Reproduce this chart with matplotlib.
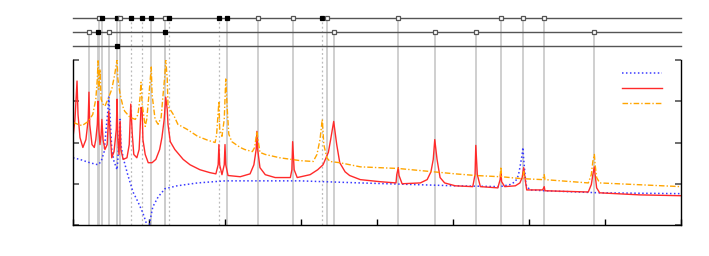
import matplotlib
matplotlib.use("Agg")
import matplotlib.pyplot as plt

# --- curves (x in axis units 0..8, y in axis units 0..4) ---
red_x = [0, 0.026, 0.053, 0.066, 0.092, 0.13, 0.17, 0.20, 0.21, 0.22, 0.25, 0.28, 0.30, 0.32,
         0.33, 0.34, 0.355, 0.37, 0.38, 0.395, 0.42, 0.45, 0.46, 0.47, 0.49, 0.51, 0.54, 0.57,
         0.58, 0.59, 0.605, 0.62, 0.63, 0.66, 0.71, 0.74, 0.75, 0.76, 0.78, 0.80, 0.84, 0.87,
         0.88, 0.895, 0.91, 0.92, 0.95, 0.99, 1.04, 1.09, 1.14, 1.17, 1.20, 1.22, 1.24, 1.25,
         1.28, 1.34, 1.45, 1.54, 1.67, 1.80, 1.88, 1.91, 1.92, 1.93, 1.96, 1.99, 2.00, 2.01,
         2.04, 2.20, 2.33, 2.38, 2.41, 2.42, 2.43, 2.46, 2.53, 2.66, 2.86, 2.88, 2.89, 2.91,
         2.95, 3.12, 3.22, 3.29, 3.36, 3.39, 3.43, 3.47, 3.51, 3.58, 3.64, 3.78, 4.04, 4.25,
         4.26, 4.28, 4.29, 4.33, 4.57, 4.66, 4.71, 4.74, 4.76, 4.79, 4.83, 4.89, 5.03, 5.26,
         5.29, 5.30, 5.32, 5.36, 5.59, 5.62, 5.63, 5.64, 5.68, 5.82, 5.88, 5.91, 5.93, 5.95,
         5.97, 6.18, 6.20, 6.21, 6.78, 6.82, 6.84, 6.86, 6.87, 6.89, 6.93, 7.46, 8.0]
red_y = [2.12, 2.56, 3.49, 2.68, 2.12, 1.88, 2.07, 2.56, 3.22, 2.44, 1.95, 1.88, 2.07, 2.44,
         3.00, 2.32, 1.95, 2.20, 2.56, 2.07, 1.83, 1.95, 2.32, 2.76, 2.20, 1.63, 1.78, 2.32,
         3.05, 2.07, 1.71, 2.51, 1.83, 1.59, 1.63, 1.95, 2.44, 2.93, 2.20, 1.71, 1.63, 1.83,
         2.20, 2.85, 2.80, 2.07, 1.71, 1.51, 1.51, 1.59, 1.83, 2.12, 2.56, 3.10, 2.80, 2.44,
         2.02, 1.83, 1.59, 1.46, 1.34, 1.27, 1.24, 1.46, 1.95, 1.46, 1.22, 1.46, 1.95, 1.46,
         1.20, 1.17, 1.24, 1.46, 1.83, 2.27, 1.83, 1.39, 1.22, 1.15, 1.15, 1.34, 2.02, 1.34,
         1.15, 1.22, 1.34, 1.46, 1.76, 2.07, 2.51, 1.95, 1.51, 1.29, 1.20, 1.10, 1.05, 1.02,
         1.22, 1.39, 1.20, 1.00, 1.02, 1.10, 1.29, 1.59, 2.07, 1.59, 1.15, 1.02, 0.95, 0.93,
         1.22, 1.93, 1.22, 0.93, 0.90, 1.10, 1.29, 1.05, 0.93, 0.95, 1.02, 1.15, 1.39, 1.10,
         0.85, 0.85, 0.93, 0.83, 0.80, 0.98, 1.22, 1.41, 1.22, 0.90, 0.78, 0.73, 0.71]

orange_x = [0, 0.066, 0.12, 0.20, 0.26, 0.30, 0.32, 0.33, 0.34, 0.355, 0.37, 0.395, 0.42, 0.46,
            0.51, 0.55, 0.58, 0.59, 0.62, 0.66, 0.68, 0.75, 0.82, 0.855, 0.88, 0.895, 0.91,
            0.95, 0.97, 1.00, 1.03, 1.04, 1.08, 1.12, 1.16, 1.18, 1.21, 1.22, 1.24, 1.25, 1.32,
            1.38, 1.50, 1.64, 1.78, 1.87, 1.89, 1.92, 1.93, 1.96, 1.99, 2.01, 2.03, 2.05, 2.09,
            2.20, 2.26, 2.36, 2.39, 2.42, 2.43, 2.46, 2.53, 2.72, 2.99, 3.16, 3.21, 3.25, 3.28,
            3.30, 3.34, 3.38, 3.51, 3.78, 4.28, 5.03, 5.30, 5.62, 5.63, 5.64, 5.92, 5.93, 5.95,
            6.18, 6.20, 6.21, 6.78, 6.82, 6.84, 6.86, 6.87, 6.89, 6.93, 8.0]
orange_y = [2.49, 2.44, 2.41, 2.51, 2.68, 3.05, 3.54, 3.98, 3.29, 3.78, 3.05, 2.93, 2.88, 3.05,
            3.29, 3.66, 4.02, 3.54, 3.17, 2.85, 2.76, 2.61, 2.56, 2.68, 3.05, 3.46, 2.93,
            2.39, 2.56, 3.17, 3.83, 3.17, 2.56, 2.44, 2.61, 3.05, 3.66, 4.02, 3.54, 2.88, 2.68,
            2.44, 2.32, 2.15, 2.05, 2.00, 2.20, 3.00, 2.32, 2.15, 2.56, 3.54, 2.80, 2.20, 2.02,
            1.88, 1.83, 1.78, 1.88, 2.27, 2.12, 1.76, 1.71, 1.63, 1.56, 1.54, 1.71, 2.07, 2.56,
            1.95, 1.63, 1.54, 1.51, 1.41, 1.37, 1.24, 1.20, 1.17, 1.41, 1.17, 1.12, 1.29, 1.12,
            1.10, 1.22, 1.10, 1.02, 1.22, 1.54, 1.71, 1.46, 1.15, 1.02, 0.93]

blue_x = [0, 0.09, 0.22, 0.33, 0.37, 0.41, 0.43, 0.46, 0.47, 0.49, 0.51, 0.54, 0.58, 0.59,
          0.605, 0.62, 0.63, 0.66, 0.72, 0.79, 0.855, 0.92, 0.96, 0.99, 1.01, 1.05, 1.12, 1.21,
          1.37, 1.64, 2.00, 2.99, 3.78, 5.03, 5.62, 5.75, 5.82, 5.86, 5.88, 5.91, 5.92, 5.93,
          5.96, 6.01, 6.21, 6.93, 8.0]
blue_y = [1.63, 1.59, 1.51, 1.46, 1.54, 1.78, 2.20, 2.80, 3.10, 2.56, 1.83, 1.54, 1.34, 1.59,
          2.07, 2.56, 1.95, 1.63, 1.22, 0.80, 0.56, 0.29, 0.07, -0.24, 0.07, 0.44, 0.68, 0.88,
          0.95, 1.02, 1.07, 1.07, 1.02, 0.95, 0.93, 0.98, 1.05, 1.20, 1.39, 1.71, 1.88, 1.59,
          0.98, 0.85, 0.83, 0.78, 0.76]

# --- marker strips above the plot: position, filled?, dotted guide? ---
row1_x = [0.34, 0.38, 0.58, 0.62, 0.76, 0.91, 1.03, 1.21, 1.26, 1.92, 2.03, 2.43, 2.89, 3.28,
          3.34, 4.28, 5.63, 5.92, 6.20]
row1_filled = [0, 1, 1, 0, 1, 1, 1, 0, 1, 1, 1, 0, 0, 1, 0, 0, 0, 0, 0]
row1_dotted = [0, 0, 0, 0, 1, 1, 0, 0, 1, 1, 0, 0, 0, 1, 0, 0, 0, 0, 0]
row2_x = [0.21, 0.33, 0.47, 1.21, 3.43, 4.76, 5.30, 6.86]
row2_filled = [0, 1, 0, 1, 0, 0, 0, 0]
row2_dotted = [0, 0, 0, 0, 0, 0, 0, 0]
row3_x = [0.58]
row3_filled = [1]
row3_dotted = [0]

fig = plt.figure(figsize=(7.09, 2.56), dpi=100)
ax = fig.add_axes([73 / 709, 31 / 256, 608 / 709, 165 / 256])
ax.set_xlim(0, 8)
ax.set_ylim(0, 4)

rows = [(5.02, row1_x, row1_filled, row1_dotted),
        (4.68, row2_x, row2_filled, row2_dotted),
        (4.34, row3_x, row3_filled, row3_dotted)]

for ry, xs, filled, dotted in rows:
    ax.plot([0, 8], [ry, ry], color="#555555", lw=1.0, clip_on=False, zorder=3)
    for x, f, d in zip(xs, filled, dotted):
        if d:
            ax.plot([x, x], [0, ry], color="#bbbbbb", lw=0.9, ls=(0, (1.5, 2)),
                    clip_on=False, zorder=1)
        else:
            ax.plot([x, x], [0, ry], color="#cccccc", lw=1.3, clip_on=False, zorder=1)
        ax.plot([x], [ry], marker="s", ms=3.3,
                mfc="black" if f else "white", mec="black" if f else "#555555",
                mew=0.9, clip_on=False, zorder=4)

ax.plot(blue_x, blue_y, color="#3a3aff", lw=1.1, ls=(0, (1, 1.6)), zorder=2)
ax.plot(red_x, red_y, color="#ff2a2a", lw=1.0, zorder=2)
ax.plot(orange_x, orange_y, color="#ffa500", lw=1.0, ls=(0, (4, 1.5, 1, 1.5)), zorder=2)

# legend samples (no labels in the original)
leg_styles = [dict(color="#3a3aff", lw=1.1, ls=(0, (1, 1.6))),
              dict(color="#ff2a2a", lw=1.0),
              dict(color="#ffa500", lw=1.0, ls=(0, (4, 1.5, 1, 1.5)))]
for i, st in enumerate(leg_styles):
    yy = 0.921 - 0.091 * i
    ax.plot([0.903, 0.969], [yy, yy], transform=ax.transAxes, **st)

ax.spines["top"].set_visible(False)
for s in ["left", "right", "bottom"]:
    ax.spines[s].set_linewidth(1.0)
    ax.spines[s].set_color("black")

ax.set_xticks(range(0, 9))
ax.set_yticks(range(0, 5))
ax.set_xticklabels([])
ax.set_yticklabels([])
ax.tick_params(axis="x", direction="in", length=4, width=1, top=False)
ax.tick_params(axis="y", direction="in", length=4, width=1.2, left=True, right=True,
               color="#555555")
for t in ax.yaxis.get_major_ticks():
    t.tick2line.set_color("#888888")

fig.savefig("out.png", dpi=100)
